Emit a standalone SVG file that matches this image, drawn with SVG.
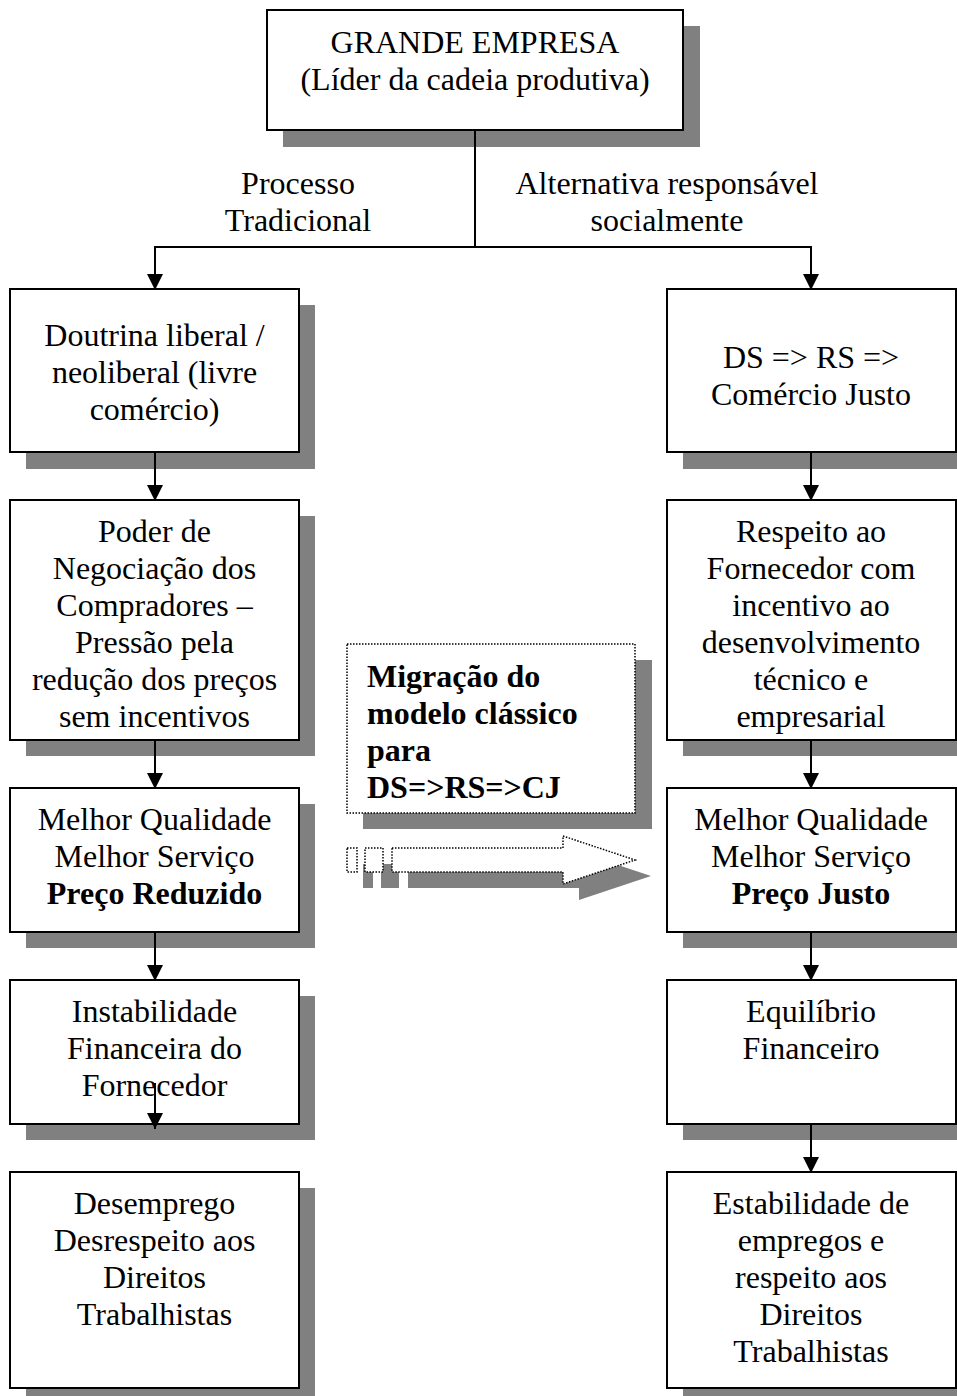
<svg xmlns="http://www.w3.org/2000/svg" width="957" height="1396" viewBox="0 0 957 1396">
  <style>
    text { font-family: "Liberation Serif", "Times New Roman", serif; font-size: 32px; fill: #000; }
    .c { text-anchor: middle; }
    .b { font-weight: bold; }
    .shadow { fill: #808080; }
    .box { fill: #fff; stroke: #000; stroke-width: 2; }
    .dot { fill: #fff; stroke: #000; stroke-width: 1.5; stroke-dasharray: 1.5 1.5; }
    .wire { fill: none; stroke: #000; stroke-width: 2; }
  </style>
  <defs>
    <marker id="head" markerUnits="userSpaceOnUse" markerWidth="16" markerHeight="16" refX="16" refY="8" orient="auto">
      <path d="M0,0 L16,8 L0,16 z" fill="#000"/>
    </marker>
  </defs>

  <rect width="957" height="1396" fill="#fff"/>

  <!-- top node -->
  <g id="grande-empresa">
    <rect class="shadow" x="283" y="26" width="417" height="121"/>
    <rect class="box" x="267" y="10" width="416" height="120"/>
    <text class="c" x="475" y="53">GRANDE EMPRESA</text>
    <text class="c" x="475" y="90">(Líder da cadeia produtiva)</text>
  </g>

  <!-- branch labels -->
  <g id="label-tradicional">
    <text class="c" x="298" y="194">Processo</text>
    <text class="c" x="298" y="231">Tradicional</text>
  </g>
  <g id="label-alternativa">
    <text class="c" x="667" y="194">Alternativa responsável</text>
    <text class="c" x="667" y="231">socialmente</text>
  </g>

  <!-- left column -->
  <g id="doutrina-liberal">
    <rect class="shadow" x="26" y="305" width="289" height="164"/>
    <rect class="box" x="10" y="289" width="289" height="163"/>
    <text class="c" x="154.5" y="346">Doutrina liberal /</text>
    <text class="c" x="154.5" y="383">neoliberal (livre</text>
    <text class="c" x="154.5" y="420">comércio)</text>
  </g>
  <g id="poder-negociacao">
    <rect class="shadow" x="26" y="516" width="289" height="240"/>
    <rect class="box" x="10" y="500" width="289" height="240"/>
    <text class="c" x="154.5" y="542">Poder de</text>
    <text class="c" x="154.5" y="579">Negociação dos</text>
    <text class="c" x="154.5" y="616">Compradores –</text>
    <text class="c" x="154.5" y="653">Pressão pela</text>
    <text class="c" x="154.5" y="690">redução dos preços</text>
    <text class="c" x="154.5" y="727">sem incentivos</text>
  </g>
  <g id="preco-reduzido">
    <rect class="shadow" x="26" y="804" width="289" height="144"/>
    <rect class="box" x="10" y="788" width="289" height="144"/>
    <text class="c" x="154.5" y="830">Melhor Qualidade</text>
    <text class="c" x="154.5" y="867">Melhor Serviço</text>
    <text class="c b" x="154.5" y="904">Preço Reduzido</text>
  </g>
  <g id="instabilidade">
    <rect class="shadow" x="26" y="996" width="289" height="144"/>
    <rect class="box" x="10" y="980" width="289" height="144"/>
    <text class="c" x="154.5" y="1022">Instabilidade</text>
    <text class="c" x="154.5" y="1059">Financeira do</text>
    <text class="c" x="154.5" y="1096">Fornecedor</text>
  </g>
  <g id="desemprego">
    <rect class="shadow" x="26" y="1188" width="289" height="216"/>
    <rect class="box" x="10" y="1172" width="289" height="216"/>
    <text class="c" x="154.5" y="1214">Desemprego</text>
    <text class="c" x="154.5" y="1251">Desrespeito aos</text>
    <text class="c" x="154.5" y="1288">Direitos</text>
    <text class="c" x="154.5" y="1325">Trabalhistas</text>
  </g>

  <!-- right column -->
  <g id="ds-rs-cj">
    <rect class="shadow" x="683" y="305" width="289" height="164"/>
    <rect class="box" x="667" y="289" width="289" height="163"/>
    <text class="c" x="811" y="368">DS =&gt; RS =&gt;</text>
    <text class="c" x="811" y="405">Comércio Justo</text>
  </g>
  <g id="respeito-fornecedor">
    <rect class="shadow" x="683" y="516" width="289" height="240"/>
    <rect class="box" x="667" y="500" width="289" height="240"/>
    <text class="c" x="811" y="542">Respeito ao</text>
    <text class="c" x="811" y="579">Fornecedor com</text>
    <text class="c" x="811" y="616">incentivo ao</text>
    <text class="c" x="811" y="653">desenvolvimento</text>
    <text class="c" x="811" y="690">técnico e</text>
    <text class="c" x="811" y="727">empresarial</text>
  </g>
  <g id="preco-justo">
    <rect class="shadow" x="683" y="804" width="289" height="144"/>
    <rect class="box" x="667" y="788" width="289" height="144"/>
    <text class="c" x="811" y="830">Melhor Qualidade</text>
    <text class="c" x="811" y="867">Melhor Serviço</text>
    <text class="c b" x="811" y="904">Preço Justo</text>
  </g>
  <g id="equilibrio">
    <rect class="shadow" x="683" y="996" width="289" height="144"/>
    <rect class="box" x="667" y="980" width="289" height="144"/>
    <text class="c" x="811" y="1022">Equilíbrio</text>
    <text class="c" x="811" y="1059">Financeiro</text>
  </g>
  <g id="estabilidade">
    <rect class="shadow" x="683" y="1188" width="289" height="216"/>
    <rect class="box" x="667" y="1172" width="289" height="216"/>
    <text class="c" x="811" y="1214">Estabilidade de</text>
    <text class="c" x="811" y="1251">empregos e</text>
    <text class="c" x="811" y="1288">respeito aos</text>
    <text class="c" x="811" y="1325">Direitos</text>
    <text class="c" x="811" y="1362">Trabalhistas</text>
  </g>

  <!-- migration callout -->
  <g id="migracao">
    <rect class="shadow" x="363" y="660" width="289" height="169"/>
    <rect class="dot" x="347" y="644" width="288" height="169"/>
    <text class="b" x="367" y="687">Migração do</text>
    <text class="b" x="367" y="724">modelo clássico</text>
    <text class="b" x="367" y="761">para</text>
    <text class="b" x="367" y="798">DS=&gt;RS=&gt;CJ</text>
  </g>

  <!-- striped block arrow -->
  <g id="seta-migracao">
    <g class="shadow">
      <rect x="363" y="864" width="10" height="24"/>
      <rect x="381" y="864" width="18" height="24"/>
      <polygon points="408,864 579,864 579,852 651,876 579,900 579,888 408,888"/>
    </g>
    <rect class="dot" x="347" y="848" width="10" height="24"/>
    <rect class="dot" x="365" y="848" width="18" height="24"/>
    <polygon class="dot" points="392,848 563,848 563,836 635,860 563,884 563,872 392,872"/>
  </g>

  <!-- connectors -->
  <g id="connectors" class="wire">
    <line x1="475" y1="130" x2="475" y2="247"/>
    <line x1="154" y1="247" x2="812" y2="247"/>
    <line x1="155" y1="247" x2="155" y2="290" marker-end="url(#head)"/>
    <line x1="811" y1="247" x2="811" y2="290" marker-end="url(#head)"/>

    <line x1="155" y1="452" x2="155" y2="501" marker-end="url(#head)"/>
    <line x1="155" y1="740" x2="155" y2="789" marker-end="url(#head)"/>
    <line x1="155" y1="932" x2="155" y2="981" marker-end="url(#head)"/>
    <line x1="155" y1="1083" x2="155" y2="1129" marker-end="url(#head)"/>

    <line x1="811" y1="452" x2="811" y2="501" marker-end="url(#head)"/>
    <line x1="811" y1="740" x2="811" y2="789" marker-end="url(#head)"/>
    <line x1="811" y1="932" x2="811" y2="981" marker-end="url(#head)"/>
    <line x1="811" y1="1124" x2="811" y2="1173" marker-end="url(#head)"/>
  </g>
</svg>
